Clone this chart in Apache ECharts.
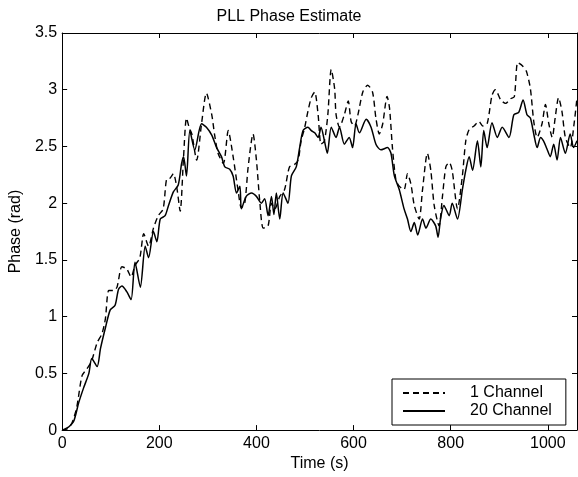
<!DOCTYPE html>
<html>
<head>
<meta charset="utf-8">
<script src="https://cdn.jsdelivr.net/npm/echarts@6/dist/echarts.min.js"></script>
<style>html,body{margin:0;padding:0;background:#fff}#c{width:578px;height:477px}</style>
</head>
<body>
<div id="c"></div>
<script>
const titleText = 'PLL Phase Estimate';
const xName = 'Time (s)';
const yName = 'Phase (rad)';
const seriesNames = ['1 Channel', '20 Channel'];
const xTicks = {min: 0, max: 1060, interval: 200};
const yTicks = {min: 0, max: 3.5, interval: 0.5};

// 1 Channel (dashed): [time, phase]
const oneChannel = [[0,0],[10,0.01],[20,0.06],[30,0.2],[41,0.48],[51,0.54],[60,0.6],[72,0.77],[82,0.85],[89,0.98],[96,1.23],[106,1.23],[113,1.26],[123,1.44],[133,1.42],[142,1.35],[150,1.45],[160,1.52],[168,1.73],[178,1.62],[188,1.78],[198,1.89],[208,1.95],[215,2.21],[222,2.22],[229,2.26],[236,2.14],[243,1.93],[250,2.41],[256,2.75],[262,2.66],[267,2.61],[277,2.38],[287,2.70],[297,2.97],[308,2.78],[314,2.60],[321,2.44],[332,2.35],[342,2.64],[352,2.41],[362,2.12],[369,1.96],[376,2.00],[383,2.32],[393,2.61],[400,2.38],[407,2.01],[414,1.78],[424,1.80],[431,2.00],[438,1.95],[448,2.06],[458,2.12],[468,2.32],[478,2.34],[486,2.38],[492,2.55],[499,2.66],[506,2.81],[513,2.93],[520,2.98],[527,2.78],[533,2.52],[540,2.55],[547,2.78],[554,3.18],[561,3.01],[564,2.78],[571,2.67],[581,2.78],[589,2.90],[595,2.72],[602,2.68],[609,2.78],[619,2.98],[629,3.04],[639,2.98],[646,2.75],[653,2.61],[660,2.70],[669,2.94],[674,2.84],[680,2.49],[687,2.21],[694,2.15],[704,2.12],[711,2.26],[718,2.17],[725,1.98],[735,1.86],[742,2.12],[752,2.44],[759,2.29],[766,1.98],[776,1.80],[783,2.06],[790,2.32],[797,2.36],[803,2.29],[814,1.95],[824,2.24],[831,2.55],[838,2.65],[848,2.68],[858,2.72],[866,2.68],[875,2.70],[885,2.95],[892,3.00],[903,2.91],[913,2.88],[923,2.92],[931,2.94],[938,3.24],[948,3.21],[956,3.16],[964,3.01],[971,2.72],[978,2.58],[988,2.70],[995,2.87],[1002,2.70],[1009,2.58],[1015,2.75],[1022,2.93],[1029,2.81],[1036,2.58],[1046,2.49],[1054,2.70],[1060,2.93]];

// 20 Channel (solid): [time, phase]
const twentyChannel = [[0,0],[6,0.01],[14,0.03],[24,0.08],[34,0.24],[44,0.37],[55,0.50],[61,0.63],[72,0.56],[79,0.72],[89,0.90],[99,1.06],[109,1.10],[116,1.24],[123,1.27],[133,1.22],[142,1.15],[150,1.48],[161,1.26],[171,1.62],[178,1.52],[188,1.75],[195,1.66],[202,1.86],[212,1.89],[219,1.98],[229,2.10],[239,2.16],[246,2.35],[250,2.41],[256,2.24],[263,2.64],[273,2.47],[287,2.70],[297,2.67],[308,2.60],[318,2.49],[328,2.41],[335,2.32],[345,2.30],[352,2.24],[359,2.09],[366,2.15],[369,1.95],[379,2.06],[390,2.09],[400,2.06],[410,2.00],[417,2.04],[424,1.89],[431,2.06],[436,1.90],[441,2.09],[448,1.86],[455,2.09],[465,2.00],[472,2.24],[482,2.32],[489,2.49],[496,2.64],[506,2.67],[513,2.64],[520,2.62],[527,2.58],[533,2.67],[540,2.55],[546,2.44],[554,2.67],[564,2.58],[571,2.67],[581,2.52],[591,2.58],[598,2.49],[605,2.70],[612,2.62],[626,2.74],[636,2.67],[646,2.52],[656,2.47],[670,2.49],[677,2.44],[684,2.24],[694,2.12],[704,1.95],[711,1.86],[718,1.75],[725,1.83],[732,1.72],[742,1.86],[749,1.78],[759,1.86],[769,1.80],[774,1.70],[779,1.86],[786,1.98],[797,1.89],[803,2.00],[814,1.86],[824,2.12],[831,2.29],[838,2.41],[845,2.29],[855,2.55],[862,2.32],[868,2.64],[875,2.49],[885,2.71],[896,2.58],[906,2.67],[920,2.58],[930,2.78],[940,2.80],[949,2.91],[957,2.78],[964,2.75],[971,2.61],[978,2.49],[985,2.58],[991,2.55],[998,2.48],[1005,2.41],[1012,2.52],[1019,2.38],[1026,2.58],[1036,2.44],[1046,2.61],[1053,2.49],[1060,2.55]];

const FONT = '"Liberation Sans", Arial, Helvetica, sans-serif';
const chart = echarts.init(document.getElementById('c'), null, {renderer: 'canvas'});
const axisLine = {show: true, onZero: false, lineStyle: {color: '#000', width: 1}};
const tick = {show: true, inside: true, length: 5, lineStyle: {color: '#000', width: 1}};
chart.setOption({
  animation: false,
  backgroundColor: '#fff',
  title: {text: titleText, left: 'center', top: 4, textStyle: {fontFamily: FONT, fontSize: 16, fontWeight: 'normal', color: '#000'}},
  grid: {left: 60, right: 1, top: 33, bottom: 38, containLabel: false},
  legend: {
    orient: 'vertical', left: 392, top: 379,
    backgroundColor: '#fff', borderColor: '#000', borderWidth: 1,
    padding: [6, 14, 6, 10], itemGap: 2,
    itemWidth: 42, itemHeight: 14,
    itemStyle: {opacity: 0},
    textStyle: {fontFamily: FONT, fontSize: 16, color: '#000', padding: [0, 0, 0, 20]},
    data: [{name: seriesNames[0]}, {name: seriesNames[1]}]
  },
  xAxis: [{
    type: 'value', position: 'bottom', min: xTicks.min, max: xTicks.max, interval: xTicks.interval,
    name: xName, nameLocation: 'middle', nameGap: 22,
    nameTextStyle: {fontFamily: FONT, fontSize: 16, color: '#000'},
    axisLine: axisLine, axisTick: tick, splitLine: {show: false},
    axisLabel: {fontFamily: FONT, fontSize: 16, color: '#000', margin: 5, showMaxLabel: false, formatter: v => String(v)}
  }, {
    type: 'value', position: 'top', min: xTicks.min, max: xTicks.max, interval: xTicks.interval,
    axisLine: axisLine, axisTick: tick, splitLine: {show: false}, axisLabel: {show: false}
  }],
  yAxis: [{
    type: 'value', position: 'left', min: yTicks.min, max: yTicks.max, interval: yTicks.interval,
    name: yName, nameLocation: 'middle', nameGap: 30,
    nameTextStyle: {fontFamily: FONT, fontSize: 16, color: '#000'},
    axisLine: axisLine, axisTick: tick, splitLine: {show: false},
    axisLabel: {fontFamily: FONT, fontSize: 16, color: '#000', margin: 5}
  }, {
    type: 'value', position: 'right', min: yTicks.min, max: yTicks.max, interval: yTicks.interval,
    axisLine: axisLine, axisTick: tick, splitLine: {show: false}, axisLabel: {show: false}
  }],
  series: [{
    name: seriesNames[0], type: 'line', data: oneChannel, showSymbol: false, symbol: 'none', smooth: 0.25,
    lineStyle: {color: '#000', width: 1.4, type: [6, 4]}, itemStyle: {color: '#000'}, z: 2
  }, {
    name: seriesNames[1], type: 'line', data: twentyChannel, showSymbol: false, symbol: 'none', smooth: 0.25,
    lineStyle: {color: '#000', width: 1.5, type: 'solid'}, itemStyle: {color: '#000'}, z: 3
  }]
});
</script>
</body>
</html>
